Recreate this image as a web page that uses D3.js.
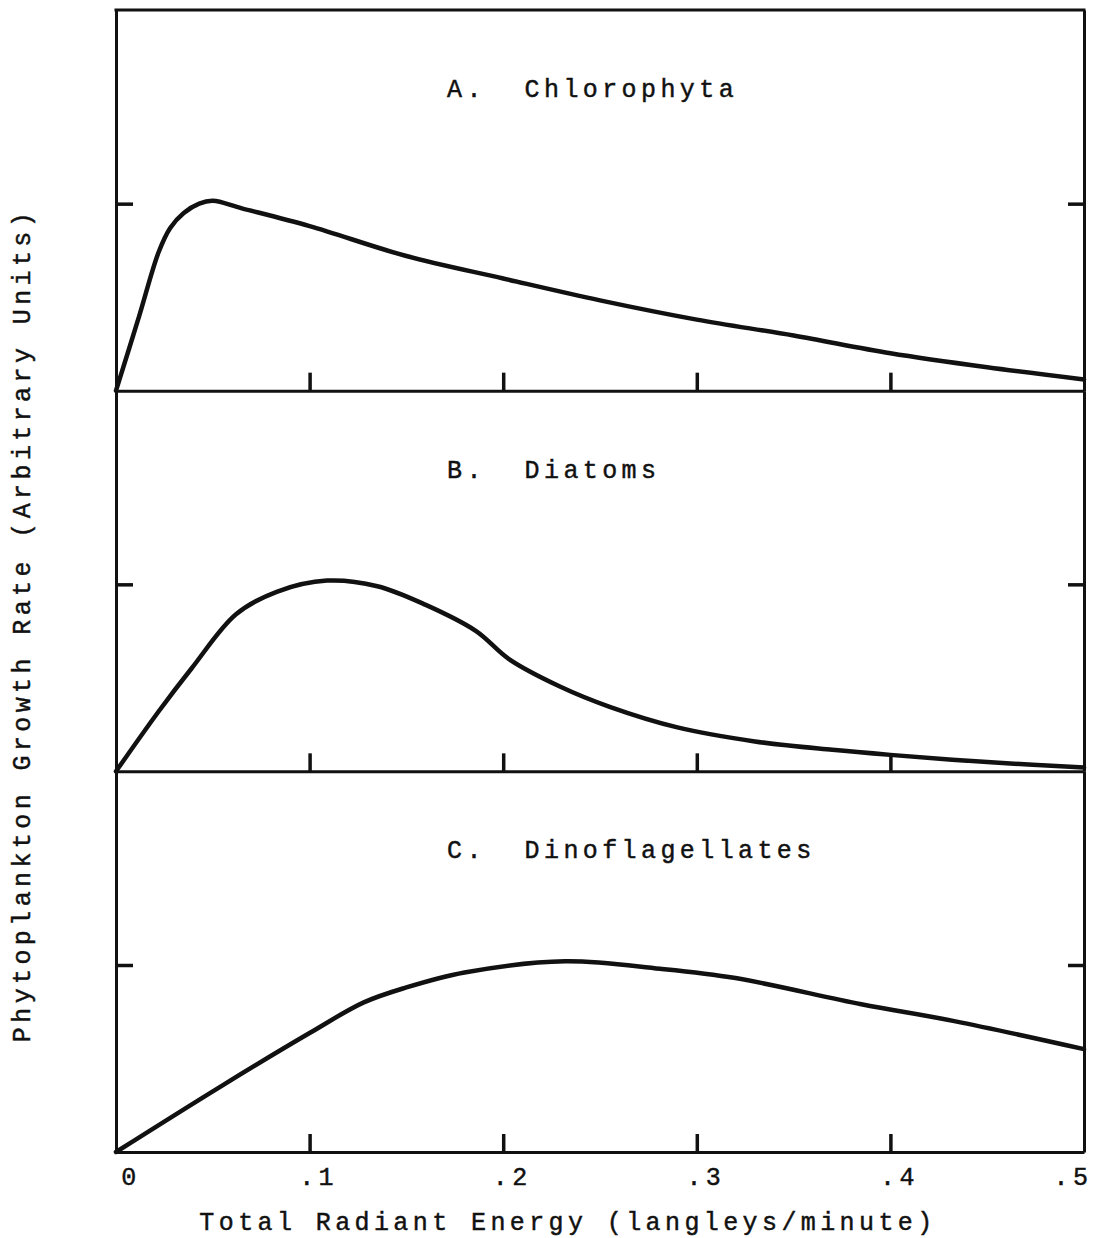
<!DOCTYPE html>
<html>
<head>
<meta charset="utf-8">
<script src="https://cdn.jsdelivr.net/npm/d3@7"></script>
<style>
  html, body { margin: 0; padding: 0; background: #fff; }
  svg { display: block; }
  text { font-family: "Liberation Mono", "DejaVu Sans Mono", monospace; fill: #111; stroke: #111; stroke-width: 0.45px; }
</style>
</head>
<body>
<svg id="chart" width="1101" height="1238"></svg>
<script>
// Growth response of three phytoplankton groups to total radiant energy
const panelTitles = ["A.  Chlorophyta", "B.  Diatoms", "C.  Dinoflagellates"];

const chlorophytaX = [0, 0.012, 0.022, 0.028, 0.035, 0.043, 0.050, 0.065, 0.100, 0.150, 0.200, 0.250, 0.300, 0.350, 0.400, 0.450, 0.500];
const chlorophytaY = [0, 0.40, 0.74, 0.87, 0.95, 1.00, 1.015, 0.975, 0.88, 0.72, 0.60, 0.483, 0.38, 0.295, 0.20, 0.125, 0.06];

const diatomX = [0, 0.022, 0.039, 0.062, 0.083, 0.109, 0.135, 0.160, 0.186, 0.203, 0.229, 0.255, 0.290, 0.330, 0.370, 0.400, 0.452, 0.500];
const diatomY = [0, 0.32, 0.55, 0.84, 0.96, 1.02, 0.99, 0.89, 0.75, 0.60, 0.455, 0.345, 0.235, 0.16, 0.115, 0.088, 0.048, 0.02];

const dinoX = [0, 0.054, 0.100, 0.128, 0.150, 0.180, 0.232, 0.281, 0.320, 0.385, 0.433, 0.500];
const dinoY = [0, 0.35, 0.636, 0.80, 0.88, 0.96, 1.02, 0.98, 0.93, 0.79, 0.70, 0.55];

const xTickValues = [0, 0.1, 0.2, 0.3, 0.4, 0.5];
const xTickLabels = ["0", ".1", ".2", ".3", ".4", ".5"];
const yTickValues = [1];

const xTitle = "Total Radiant Energy (langleys/minute)";
const yTitle = "Phytoplankton Growth Rate (Arbitrary Units)";

const series = [
  { title: panelTitles[0], xs: chlorophytaX, ys: chlorophytaY },
  { title: panelTitles[1], xs: diatomX, ys: diatomY },
  { title: panelTitles[2], xs: dinoX, ys: dinoY }
];

// layout
const frameLeft = 116, frameRight = 1084, frameTop = 10, frameBottom = 1152;
const panelH = (frameBottom - frameTop) / series.length;
const unitPx = 187;           // height of one growth unit inside a panel
const fontSize = 25, spacing = 4.4;

const svg = d3.select("#chart");

const x = d3.scaleLinear().domain([0, 0.5]).range([frameLeft, frameRight]);

const line = d3.line()
  .x(d => x(d[0]))
  .curve(d3.curveCatmullRom.alpha(0.5));

function styleAxis(a) {
  a.select(".domain").attr("stroke", "#111").attr("stroke-width", 3);
  a.selectAll(".tick line").attr("stroke", "#111").attr("stroke-width", 3.5);
}

series.forEach((s, i) => {
  const pTop = frameTop + i * panelH;
  const pBot = pTop + panelH;
  const y = d3.scaleLinear().domain([0, panelH / unitPx]).range([pBot, pTop]);

  const g = svg.append("g");

  // bottom edge with inward ticks
  const xAxis = d3.axisBottom(x)
    .tickValues(xTickValues.filter(v => v > 0 && v < 0.5))
    .tickSizeInner(-18).tickSizeOuter(0)
    .tickFormat("");
  g.append("g")
    .attr("transform", `translate(0,${pBot})`)
    .call(xAxis)
    .call(styleAxis);

  // left and right edges with the unit tick
  const yLeft = d3.axisLeft(y).tickValues(yTickValues).tickSizeInner(-17).tickSizeOuter(0).tickFormat("");
  const yRight = d3.axisRight(y).tickValues(yTickValues).tickSizeInner(-16).tickSizeOuter(0).tickFormat("");
  g.append("g").attr("transform", `translate(${frameLeft},0)`).call(yLeft).call(styleAxis);
  g.append("g").attr("transform", `translate(${frameRight},0)`).call(yRight).call(styleAxis);

  if (i === 0) {
    g.append("line")
      .attr("x1", frameLeft - 1.5).attr("x2", frameRight + 1.5)
      .attr("y1", pTop).attr("y2", pTop)
      .attr("stroke", "#111").attr("stroke-width", 3);
  }

  // growth curve
  const pts = s.xs.map((v, k) => [v, s.ys[k]]);
  g.append("path")
    .datum(pts)
    .attr("fill", "none")
    .attr("stroke", "#111")
    .attr("stroke-width", 4.5)
    .attr("stroke-linejoin", "round")
    .attr("stroke-linecap", "round")
    .attr("d", line.y(d => y(d[1])));

  // panel title
  g.append("text")
    .attr("x", 447)
    .attr("y", pTop + 87)
    .attr("font-size", fontSize)
    .attr("letter-spacing", spacing)
    .style("white-space", "pre")
    .text(s.title);
});

// x tick labels under the bottom panel
svg.append("g").selectAll("text")
  .data(xTickValues)
  .join("text")
  .attr("x", (d, k) => x(d) + (k === 0 ? 15 : k === xTickValues.length - 1 ? -11 : 9))
  .attr("y", frameBottom + 33)
  .attr("text-anchor", "middle")
  .attr("font-size", fontSize)
  .attr("letter-spacing", spacing)
  .text((d, k) => xTickLabels[k]);

// axis titles
svg.append("text")
  .attr("x", 568)
  .attr("y", 1230)
  .attr("text-anchor", "middle")
  .attr("font-size", fontSize)
  .attr("letter-spacing", spacing)
  .text(xTitle);

svg.append("text")
  .attr("transform", "translate(30,625) rotate(-90)")
  .attr("text-anchor", "middle")
  .attr("font-size", fontSize)
  .attr("letter-spacing", spacing)
  .text(yTitle);
</script>
</body>
</html>
